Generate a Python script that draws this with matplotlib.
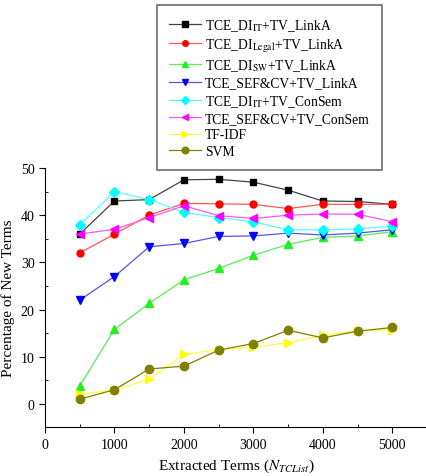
import numpy as np
import matplotlib
matplotlib.use('Agg')
import matplotlib.pyplot as plt
from matplotlib.ticker import MultipleLocator

plt.rcParams['font.family'] = ['Liberation Serif', 'DejaVu Serif']
plt.rcParams['mathtext.fontset'] = 'stix'

# Data
terms = [500, 1000, 1500, 2000, 2500, 3000, 3500, 4000, 4500, 5000]

di_it_linka = [36, 43, 43.3, 47.5, 47.6, 47.0, 45.3, 43.0, 42.9, 42.3]
di_legal_linka = [32, 36, 40, 42.5, 42.4, 42.3, 41.4, 42.3, 42.3, 42.3]
di_sw_linka = [3.8, 15.8, 21.3, 26.3, 28.7, 31.5, 33.8, 35.3, 35.6, 36.5]
sefcv_linka = [22, 27, 33.3, 34, 35.5, 35.6, 36.2, 35.8, 36.2, 36.9]
di_it_consem = [38, 45, 43.3, 40.6, 39.5, 38.6, 36.9, 36.9, 37.1, 37.7]
sefcv_consem = [36, 37, 39.5, 42, 39.9, 39.3, 40.0, 40.25, 40.2, 38.6]
tfidf = [2.1, 2.9, 5.3, 10.5, 11.5, 12.0, 13.0, 14.5, 15.5, 15.7]
svm = [1.0, 3.0, 7.4, 8.0, 11.4, 12.8, 15.6, 14.0, 15.4, 16.2]

labels = [
    r'TCE_DI$_{\mathrm{IT}}$+TV_LinkA',
    r'TCE_DI$_{\mathrm{Legal}}$+TV_LinkA',
    r'TCE_DI$_{\mathrm{SW}}$+TV_LinkA',
    'TCE_SEF&CV+TV_LinkA',
    r'TCE_DI$_{\mathrm{IT}}$+TV_ConSem',
    'TCE_SEF&CV+TV_ConSem',
    'TF-IDF',
    'SVM',
]
series = [di_it_linka, di_legal_linka, di_sw_linka, sefcv_linka,
          di_it_consem, sefcv_consem, tfidf, svm]
colors = ['#000000', '#ff0000', '#22ee22', '#0000ff',
          '#00ffff', '#ff00ff', '#ffff00', '#808000']
line_colors = ['#444444', '#ff5555', '#55ee55', '#5555ee',
               '#55ffff', '#ff55ff', '#ffff44', '#808000']
markers = ['s', 'o', '^', 'v', 'D', '<', '>', 'o']
msizes = [5, 5, 6, 6, 5, 6, 6, 6]

fig = plt.figure(figsize=(4.27, 4.77), dpi=100)
ax = fig.add_axes([0.1054, 0.1017, 0.8946, 0.544])

handles = []
for ys, lab, c, lc, m, ms in zip(series, labels, colors, line_colors, markers, msizes):
    h, = ax.plot(terms, ys, color=lc, linewidth=0.9, marker=m, markersize=ms,
                 markerfacecolor=c, markeredgecolor=c, label=lab)
    handles.append(h)

ax.set_xlim(0, 5500)
ax.set_ylim(-5, 50)
ax.set_xticks([0, 1000, 2000, 3000, 4000, 5000])
ax.set_yticks([0, 10, 20, 30, 40, 50])
ax.xaxis.set_minor_locator(MultipleLocator(500))
ax.yaxis.set_minor_locator(MultipleLocator(5))
ax.tick_params(axis='both', which='major', direction='out', length=4, labelsize=10)
ax.tick_params(axis='both', which='minor', direction='in', length=2)
ax.spines['top'].set_visible(False)
ax.spines['right'].set_visible(False)

ax.set_ylabel('Percentage of New Terms', fontsize=11)
ax.set_xlabel(r'Extracted Terms ($N_{TCList}$)', fontsize=11)

leg = fig.legend(handles=handles, loc='upper left',
                 bbox_to_anchor=(0.3677, 0.988), fontsize=9.8,
                 frameon=True, fancybox=False, edgecolor='#555555',
                 handlelength=2.35, handletextpad=0.25, labelspacing=0.25,
                 borderpad=0.9, borderaxespad=0, markerscale=0.8)
leg.get_frame().set_linewidth(1.3)

fig.savefig('out.png', dpi=100)
